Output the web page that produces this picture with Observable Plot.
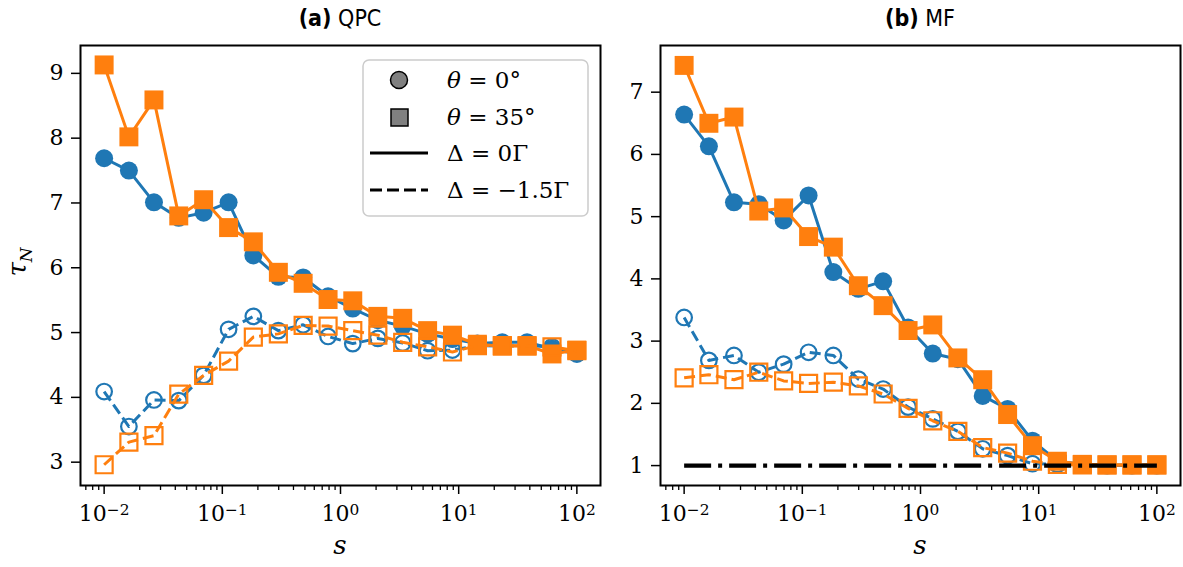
<!DOCTYPE html>
<html>
<head>
<meta charset="utf-8">
<script src="https://cdn.jsdelivr.net/npm/d3@7"></script>
<script src="https://cdn.jsdelivr.net/npm/@observablehq/plot@0.6"></script>
<style>
  body { margin: 0; background: #fff; }
  #wrap { position: relative; width: 1183px; height: 567px; overflow: hidden; background: #fff; }
  .panel { position: absolute; top: 0; }
  .panel svg, .panel svg text { font-family: "DejaVu Serif", serif !important; }
  .title { position: absolute; top: 5px; transform: translateX(-50%); white-space: nowrap;
           font-family: "DejaVu Sans Condensed", "DejaVu Sans", sans-serif; font-size: 23px; color: #000; }
  .xlabel { position: absolute; top: 530px; transform: translateX(-50%);
            font-family: "DejaVu Serif", serif; font-style: italic; font-size: 26px; }
  .ylabel { position: absolute; left: 19px; top: 262px; transform: translate(-50%, -50%) rotate(-90deg);
            font-family: "DejaVu Serif", serif; font-size: 26px; white-space: nowrap; }
  .ylabel sub { font-size: 65%; }
  #legend { position: absolute; left: 362px; top: 59px; }
</style>
</head>
<body>
<div id="wrap">
  <div class="title" style="left:340px"><b>(a)</b> QPC</div>
  <div class="title" style="left:920px"><b>(b)</b> MF</div>
  <div class="ylabel"><i>τ</i><sub><i>N</i></sub></div>
  <div class="xlabel" style="left:340px">s</div>
  <div class="xlabel" style="left:920px">s</div>
  <div id="panelA" class="panel" style="left:0px"></div>
  <div id="panelB" class="panel" style="left:600px"></div>
  <svg id="legend" width="227" height="158" style="font-family: 'DejaVu Serif', serif; font-size: 23px;">
    <rect x="1" y="1" width="225" height="156" rx="6" ry="6" fill="rgba(255,255,255,0.8)" stroke="#cccccc" stroke-width="1.5"></rect>
    <circle cx="37" cy="21" r="8.5" fill="#808080" stroke="#000" stroke-width="1.5"></circle>
    <rect x="29" y="50" width="17" height="17" fill="#808080" stroke="#000" stroke-width="1.5"></rect>
    <line x1="8" y1="94" x2="66" y2="94" stroke="#000" stroke-width="3.2"></line>
    <line x1="8" y1="131" x2="66" y2="131" stroke="#000" stroke-width="3.2" stroke-dasharray="12,5"></line>
    <text x="85" y="21" dominant-baseline="central"><tspan font-style="italic">θ</tspan> = 0°</text>
    <text x="85" y="58" dominant-baseline="central"><tspan font-style="italic">θ</tspan> = 35°</text>
    <text x="85" y="94" dominant-baseline="central">Δ = 0Γ</text>
    <text x="85" y="131" dominant-baseline="central">Δ = −1.5Γ</text>
  </svg>
</div>
<script>
// ---- data ----
const s = [0.01, 0.0162, 0.0264, 0.0428, 0.0695, 0.113, 0.183, 0.298, 0.483, 0.785,
           1.27, 2.07, 3.36, 5.46, 8.86, 14.4, 23.4, 37.9, 61.6, 100];

// (a) QPC
const qpcTheta0Delta0    = [7.69, 7.50, 7.01, 6.77, 6.85, 7.01, 6.19, 5.86, 5.85, 5.56, 5.37, 5.19, 5.10, 4.98, 4.90, 4.83, 4.85, 4.85, 4.75, 4.67];
const qpcTheta35Delta0   = [9.13, 8.02, 8.59, 6.80, 7.05, 6.62, 6.40, 5.93, 5.76, 5.51, 5.49, 5.25, 5.22, 5.03, 4.96, 4.82, 4.79, 4.80, 4.67, 4.73];
const qpcTheta0Delta15   = [4.09, 3.55, 3.96, 3.95, 4.34, 5.05, 5.25, 5.03, 5.12, 4.94, 4.83, 4.91, 4.84, 4.72, 4.73, 4.80, 4.79, 4.80, 4.78, 4.70];
const qpcTheta35Delta15  = [2.96, 3.31, 3.41, 4.05, 4.34, 4.56, 4.93, 4.98, 5.11, 5.10, 5.03, 4.96, 4.85, 4.78, 4.70, 4.80, 4.80, 4.79, 4.78, 4.72];

// (b) MF
const mfTheta0Delta0     = [6.64, 6.13, 5.23, 5.20, 4.94, 5.34, 4.11, 3.84, 3.96, 3.22, 2.80, 2.71, 2.12, 1.91, 1.40, 1.07, 1.02, 1.01, 1.01, 1.01];
const mfTheta35Delta0    = [7.43, 6.50, 6.60, 5.09, 5.14, 4.68, 4.51, 3.89, 3.57, 3.17, 3.26, 2.73, 2.38, 1.82, 1.32, 1.07, 1.02, 1.01, 1.01, 1.01];
const mfTheta0Delta15    = [3.38, 2.69, 2.77, 2.50, 2.63, 2.82, 2.77, 2.39, 2.23, 1.94, 1.75, 1.55, 1.27, 1.16, 1.03, 1.02, 1.01, 1.00, 1.00, 1.00];
const mfTheta35Delta15   = [2.41, 2.46, 2.38, 2.50, 2.36, 2.32, 2.34, 2.28, 2.15, 1.92, 1.72, 1.55, 1.29, 1.20, 1.07, 1.02, 1.01, 1.01, 1.01, 1.01];
const mfLimit = 1;

// ticks
const xMajorTicks = [0.01, 0.1, 1, 10, 100];
const xTickLabels = ["10^−2", "10^−1", "10^0", "10^1", "10^2"];
const yTicksA = [3, 4, 5, 6, 7, 8, 9];
const yTicksB = [1, 2, 3, 4, 5, 6, 7];

const BLUE = "#1f77b4", ORANGE = "#ff7f0e";

// minor log ticks
const xMinorTicks = [];
for (let e = -3; e <= 2; e++) for (let m = 2; m <= 9; m++) {
  const v = m * Math.pow(10, e);
  if (v > Math.pow(10, -2.2) && v < Math.pow(10, 2.2)) xMinorTicks.push(+v.toPrecision(3));
}

const rows = vals => s.map((x, i) => ({s: x, tau: vals[i]}));

function seriesMarks(vals, color, filled, symbol, dashed) {
  const data = rows(vals);
  const lineOpts = {x: "s", y: "tau", stroke: color, strokeWidth: 3};
  if (dashed) { lineOpts.strokeDasharray = "11,5"; lineOpts.strokeLinecap = "butt"; }
  const isSq = symbol === "square";
  const dotOpts = filled
    ? {x: "s", y: "tau", symbol, r: isSq ? 10.7 : 9, fill: color, stroke: "none"}
    : {x: "s", y: "tau", symbol, r: isSq ? 9.6 : 7.8, fill: "none", stroke: color, strokeWidth: 2.2};
  return [Plot.line(data, lineOpts), Plot.dot(data, dotOpts)];
}

function axes(yTicks) {
  return [
    Plot.axisY(yTicks, {tickSize: 9, tickPadding: 8, tickFormat: d => String(d), label: null, strokeWidth: 1.5}),
    Plot.axisX(xMinorTicks, {tickSize: 5, tickFormat: () => "", label: null, strokeWidth: 1.3}),
    Plot.axisX(xMajorTicks, {tickSize: 9, tickPadding: 11, tickFormat: d => xTickLabels[xMajorTicks.indexOf(d)], label: null, strokeWidth: 1.5}),
    Plot.frame({stroke: "black", strokeWidth: 2})
  ];
}

function fixText(svg) {
  const ns = "http://www.w3.org/2000/svg";
  svg.style.fontFamily = "'DejaVu Serif', serif";
  svg.querySelectorAll("g[aria-label$='axis tick label']").forEach(g => {
    g.setAttribute("font-family", "DejaVu Serif, serif");
    g.style.fontFamily = "'DejaVu Serif', serif";
  });
  svg.querySelectorAll("text").forEach(t => {
    t.setAttribute("font-family", "DejaVu Serif, serif");
    t.style.fontFamily = "'DejaVu Serif', serif";
    const str = t.textContent;
    if (!str.includes("^")) return;
    const [base, exp] = str.split("^");
    t.textContent = "";
    const a = document.createElementNS(ns, "tspan"); a.textContent = base;
    const b = document.createElementNS(ns, "tspan"); b.textContent = exp;
    b.setAttribute("dy", "-0.42em"); b.style.fontSize = "70%";
    t.append(a, b);
  });
}

const common = {
  height: 567, marginTop: 45, marginBottom: 82,
  x: {type: "log", domain: [Math.pow(10, -2.2), Math.pow(10, 2.2)]},
  style: {fontFamily: "'DejaVu Serif', serif", fontSize: "22px", color: "black", background: "transparent", overflow: "visible"}
};

const plotA = Plot.plot({
  ...common, width: 610, marginLeft: 80, marginRight: 10,
  y: {domain: [2.64, 9.43]},
  marks: [
    ...seriesMarks(qpcTheta0Delta0, BLUE, true, "circle", false),
    ...seriesMarks(qpcTheta0Delta15, BLUE, false, "circle", true),
    ...seriesMarks(qpcTheta35Delta0, ORANGE, true, "square", false),
    ...seriesMarks(qpcTheta35Delta15, ORANGE, false, "square", true),
    ...axes(yTicksA)
  ]
});

const plotB = Plot.plot({
  ...common, width: 583, marginLeft: 60, marginRight: 3,
  y: {domain: [0.68, 7.75]},
  marks: [
    ...seriesMarks(mfTheta0Delta0, BLUE, true, "circle", false),
    ...seriesMarks(mfTheta0Delta15, BLUE, false, "circle", true),
    ...seriesMarks(mfTheta35Delta0, ORANGE, true, "square", false),
    ...seriesMarks(mfTheta35Delta15, ORANGE, false, "square", true),
    Plot.line([{s: s[0], tau: mfLimit}, {s: s[s.length - 1], tau: mfLimit}],
      {x: "s", y: "tau", stroke: "black", strokeWidth: 4.2, strokeDasharray: "27,7,4,7", strokeLinecap: "butt"}),
    ...axes(yTicksB)
  ]
});

fixText(plotA); fixText(plotB);
document.getElementById("panelA").append(plotA);
document.getElementById("panelB").append(plotB);
</script>
</body>
</html>
